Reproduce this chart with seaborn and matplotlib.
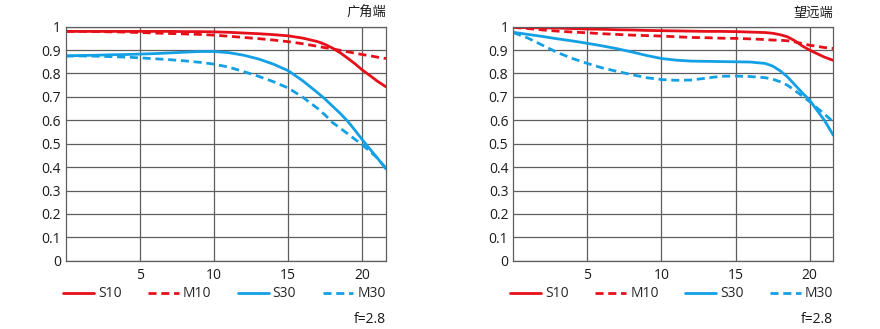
import numpy as np
import pandas as pd
import matplotlib
matplotlib.use("Agg")
import matplotlib.pyplot as plt
import seaborn as sns

# Image height (mm) at which MTF is sampled
img_height = [0, 1, 2, 3, 4, 5, 6, 7, 8, 9, 10, 11, 12, 13, 14, 15, 16,
              17, 17.5, 18, 18.5, 19, 19.5, 20, 20.5, 21, 21.6]

# Wide end (广角端)
wide_s10 = [0.980, 0.980, 0.980, 0.980, 0.980, 0.980, 0.980, 0.980, 0.979, 0.979,
            0.978, 0.976, 0.973, 0.970, 0.966, 0.961, 0.951, 0.936, 0.924, 0.908,
            0.889, 0.866, 0.842, 0.815, 0.792, 0.768, 0.743]
wide_m10 = [0.980, 0.980, 0.979, 0.978, 0.977, 0.975, 0.973, 0.971, 0.969, 0.967,
            0.964, 0.959, 0.954, 0.949, 0.943, 0.936, 0.927, 0.916, 0.910, 0.905,
            0.899, 0.893, 0.887, 0.881, 0.876, 0.870, 0.864]
wide_s30 = [0.875, 0.877, 0.878, 0.880, 0.881, 0.883, 0.885, 0.888, 0.891, 0.894,
            0.894, 0.889, 0.878, 0.862, 0.840, 0.812, 0.768, 0.717, 0.690, 0.660,
            0.630, 0.597, 0.558, 0.517, 0.478, 0.440, 0.392]
wide_m30 = [0.875, 0.875, 0.874, 0.872, 0.870, 0.867, 0.863, 0.859, 0.854, 0.848,
            0.840, 0.827, 0.808, 0.788, 0.765, 0.738, 0.698, 0.650, 0.622, 0.590,
            0.567, 0.543, 0.519, 0.495, 0.468, 0.440, 0.395]

# Tele end (望远端)
tele_s10 = [0.997, 0.996, 0.995, 0.994, 0.992, 0.990, 0.989, 0.987, 0.986, 0.984,
            0.983, 0.982, 0.981, 0.980, 0.980, 0.979, 0.977, 0.975, 0.972, 0.966,
            0.957, 0.940, 0.918, 0.900, 0.885, 0.870, 0.856]
tele_m10 = [0.997, 0.992, 0.986, 0.981, 0.977, 0.974, 0.970, 0.967, 0.964, 0.962,
            0.960, 0.957, 0.954, 0.953, 0.951, 0.950, 0.948, 0.945, 0.943, 0.942,
            0.940, 0.935, 0.928, 0.921, 0.916, 0.911, 0.907]
tele_s30 = [0.976, 0.967, 0.958, 0.948, 0.939, 0.929, 0.918, 0.906, 0.892, 0.877,
            0.864, 0.857, 0.853, 0.852, 0.851, 0.850, 0.849, 0.843, 0.832, 0.812,
            0.786, 0.752, 0.718, 0.686, 0.643, 0.600, 0.536]
tele_m30 = [0.975, 0.951, 0.920, 0.889, 0.864, 0.843, 0.824, 0.809, 0.795, 0.782,
            0.774, 0.771, 0.772, 0.780, 0.788, 0.789, 0.787, 0.782, 0.776, 0.765,
            0.750, 0.728, 0.704, 0.680, 0.653, 0.627, 0.593]

series_names = ["S10", "M10", "S30", "M30"]
panel_titles = ["广角端", "望远端"]
aperture_label = "f=2.8"
x_ticks = [5, 10, 15, 20]
y_ticks = [0, 0.1, 0.2, 0.3, 0.4, 0.5, 0.6, 0.7, 0.8, 0.9, 1]
y_tick_labels = ["0", "0.1", "0.2", "0.3", "0.4", "0.5", "0.6", "0.7", "0.8", "0.9", "1"]

RED = "#e60f1a"
BLUE = "#14a0e4"
GRID = "#5e5e5e"
palette = {"S10": RED, "M10": RED, "S30": BLUE, "M30": BLUE}
dashes = {"S10": "", "M10": (2.9, 1.7), "S30": "", "M30": (2.9, 1.7)}


def long_frame(s10, m10, s30, m30):
    parts = []
    for name, vals in zip(series_names, [s10, m10, s30, m30]):
        parts.append(pd.DataFrame({"height": img_height, "mtf": vals, "series": name}))
    return pd.concat(parts, ignore_index=True)


panels = [long_frame(wide_s10, wide_m10, wide_s30, wide_m30),
          long_frame(tele_s10, tele_m10, tele_s30, tele_m30)]

sns.set_style("white")
plt.rcParams["font.family"] = ["Open Sans", "Noto Sans CJK SC", "DejaVu Sans"]

fig = plt.figure(figsize=(8.8, 3.29), dpi=100)
axes_rects = [(66 / 880, 1 - 260.7 / 329, 320 / 880, 234 / 329),
              (513.3 / 880, 1 - 260.7 / 329, 320 / 880, 234 / 329)]

for rect, df, title in zip(axes_rects, panels, panel_titles):
    ax = fig.add_axes(rect)
    ax.set_xlim(0, 21.6)
    ax.set_ylim(0, 1)
    ax.set_xticks(x_ticks)
    ax.set_yticks(y_ticks)
    ax.set_yticklabels(y_tick_labels)
    ax.grid(True, color=GRID, linewidth=0.9)
    ax.set_axisbelow(True)
    for sp in ax.spines.values():
        sp.set_color(GRID)
        sp.set_linewidth(0.9)
    ax.tick_params(axis="both", length=0, labelsize=10, colors="#1a1a1a")
    ax.tick_params(axis="y", pad=3.6)
    ax.tick_params(axis="x", pad=5)

    sns.lineplot(data=df, x="height", y="mtf", hue="series", style="series",
                 palette=palette, dashes=dashes, linewidth=2.0, ax=ax,
                 hue_order=series_names, style_order=series_names,
                 estimator=None, sort=False, clip_on=True)
    ax.set_xlabel("")
    ax.set_ylabel("")

    handles, labels = ax.get_legend_handles_labels()
    ax.legend(handles, labels, loc="center", ncol=4, mode="expand",
              bbox_to_anchor=(-0.009, -0.142, 1.009, 0), frameon=False,
              fontsize=10, handlelength=2.2, handletextpad=0.3,
              borderaxespad=0, borderpad=0)

    ax.text(1.0, 1.058, title, transform=ax.transAxes, ha="right", va="center",
            fontsize=9.5, family=["Noto Sans CJK SC"], color="#1a1a1a")
    ax.text(1.0, -0.252, aperture_label, transform=ax.transAxes, ha="right",
            va="center", fontsize=10, color="#1a1a1a")

fig.savefig("out.png", dpi=100)
